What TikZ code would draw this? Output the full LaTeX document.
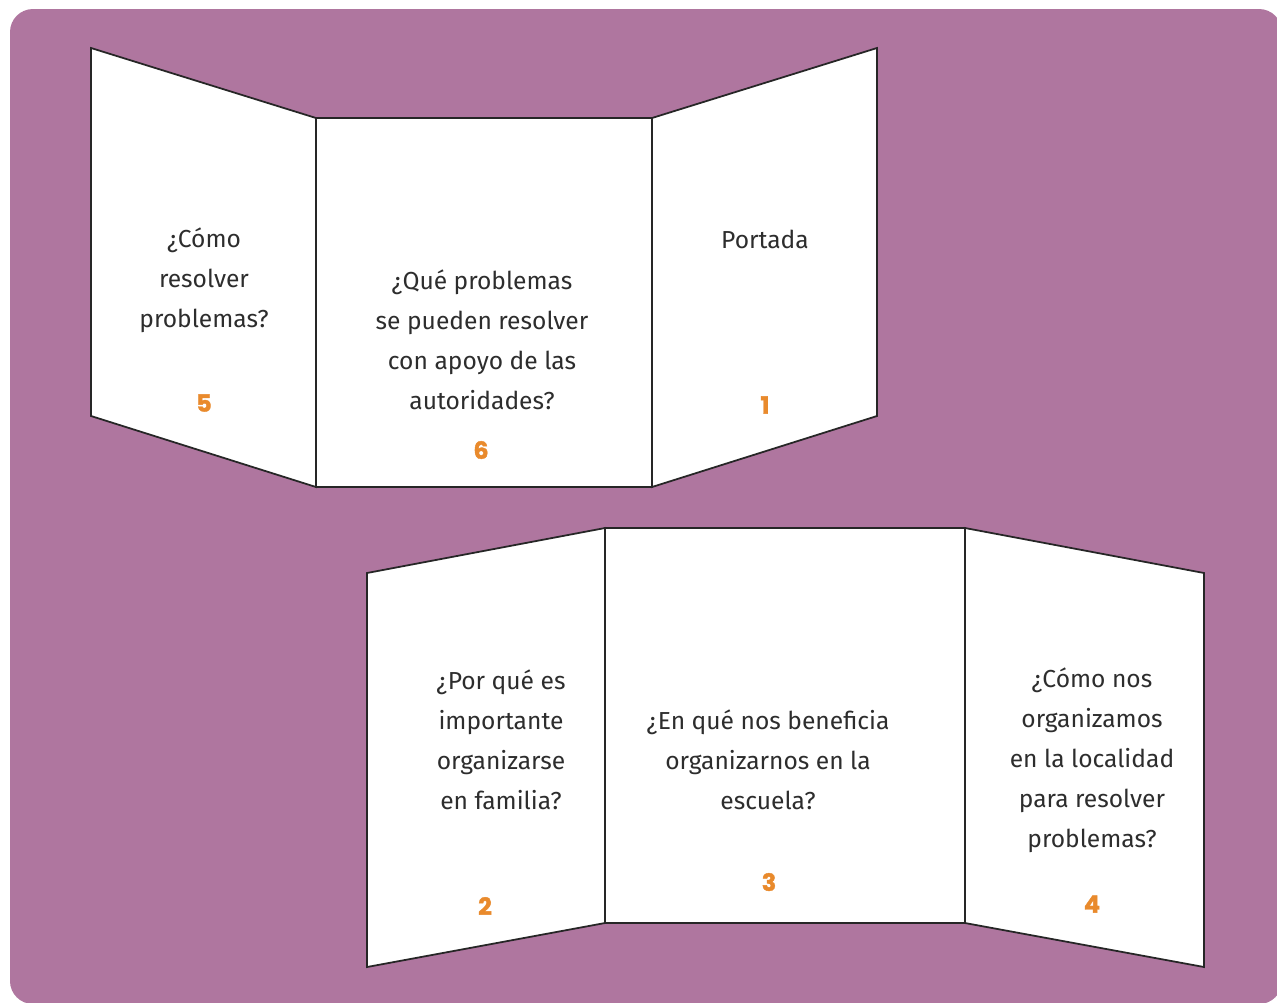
\documentclass[tikz,border=0pt]{standalone}
\usepackage{fontspec}
\setmainfont{Fira Sans}
\newfontfamily\numfont[BoldFeatures={FakeBold=1.6}]{Poppins}
\usetikzlibrary{positioning}
\definecolor{bgpurple}{RGB}{175,118,159}
\definecolor{numorange}{RGB}{233,138,44}
\definecolor{textgrey}{RGB}{45,45,45}

\begin{document}
\begin{tikzpicture}[x=0.02cm,y=-0.02cm,align=center]
    \tikzstyle{panel} = [draw=black!85,fill=white,line width=1pt,line join=miter]
    \tikzstyle{question} = [text=textgrey,font=\fontsize{14}{22.7}\selectfont,inner sep=0pt]
    \tikzstyle{pagenum} = [text=numorange,font=\numfont\fontsize{13.5}{15}\selectfont\bfseries,inner sep=0pt]
      \useasboundingbox (0,0) rectangle (1277,1002);
      \fill[bgpurple,rounded corners=0.46cm] (10,9) rectangle (1282,1004);
      % upper booklet
      \draw[panel] (91,48) -- (316,118) -- (316,487) -- (91,416) -- cycle;
      \draw[panel] (316,118) rectangle (652,487);
      \draw[panel] (652,118) -- (877,48) -- (877,416) -- (652,487) -- cycle;
      \node[question] (como) at (204,280) {¿Cómo\\resolver\\problemas?};
      \node[pagenum] (n5) at (204,403) {5};
      \node[question] (autoridades) at (482,340) {¿Qué problemas\\se pueden resolver\\con apoyo de las\\autoridades?};
      \node[pagenum] (n6) at (481,450) {6};
      \node[question] (portada) at (765,239) {Portada};
      \node[pagenum] (n1) at (765,405) {1};
      % lower booklet
      \draw[panel] (367,573) -- (605,528) -- (605,923) -- (367,967) -- cycle;
      \draw[panel] (605,528) rectangle (965,923);
      \draw[panel] (965,528) -- (1204,573) -- (1204,967) -- (965,923) -- cycle;
      \node[question] (familia) at (501,740) {¿Por qué es\\importante\\organizarse\\en familia?};
      \node[pagenum] (n2) at (485,906) {2};
      \node[question] (escuela) at (768,760) {¿En qué nos beneficia\\organizarnos en la\\escuela?};
      \node[pagenum] (n3) at (769,882) {3};
      \node[question] (localidad) at (1092,760) {¿Cómo nos\\organizamos\\en la localidad\\para resolver\\problemas?};
      \node[pagenum] (n4) at (1092,904) {4};
  \end{tikzpicture}
\end{document}
